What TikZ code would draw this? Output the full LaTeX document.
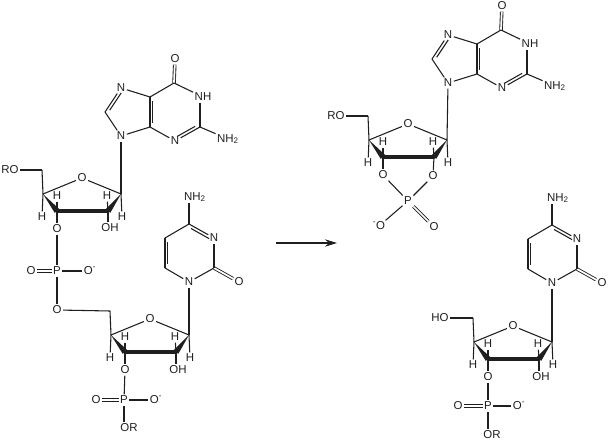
\documentclass[tikz,border=0pt]{standalone}
\usepackage{tikz}
\usepackage{xcolor}
\usepackage{fontspec}
\setmainfont{Liberation Sans}
\usetikzlibrary{calc,arrows.meta}
\newcommand{\NHtwo}{NH\textsubscript{2}}
\newcommand{\Ominus}{O\textsuperscript{-}}
\newcommand{\inbond}[3]{\draw (#1) -- (#2);
  \draw ($(#1)!.14!(#2)!#3!90:(#2)$) -- ($(#2)!.14!(#1)!#3!-90:(#1)$);}
\newcommand{\wedgebond}[2]{\fill (#1) -- ($(#2)!2.2pt!90:(#1)$) -- ($(#2)!2.2pt!-90:(#1)$) -- cycle;}
\begin{document}
\begin{tikzpicture}[x=0.75pt,y=-0.75pt,line width=0.8pt,color=black!88,
  atom/.style={inner sep=0.8pt,font=\fontsize{8.6}{9}\selectfont},
  dbl/.style={double,double distance=1.3pt,line width=0.65pt}]
\useasboundingbox (0,0) rectangle (611,442);
% guanine
  \foreach \b/\dx/\dy in {g/0/0,k/327/-53}
  { \foreach \nm/\x/\y in {c6/174/83,c2/200/127,c4/150/127,c5/150/97,c8/105/112}
    {\coordinate (\b\nm) at (\x+\dx,\y+\dy);}
    \foreach \nm/\x/\y/\txt in {o/175/59/O,n1/203/97/NH,n2/228/139/\NHtwo,n3/175/141/N,n7/121/88/N,n9/121/136/N}
    {\node [atom] (\b\nm) at (\x+\dx,\y+\dy) {\txt};}
    \draw [dbl] (\b c6) -- (\b o);
    \draw (\b c6) -- (\b n1);
    \draw (\b c2) -- (\b c2 |- \b n1.south);
    \draw (\b c2) -- (\b n2);
    \inbond{\b n3}{\b c2}{2.2pt}
    \draw (\b c4) -- (\b n3);
    \inbond{\b c4}{\b c5}{-2.2pt}
    \draw (\b c5) -- (\b c6);
    \draw (\b c5) -- (\b n7);
    \inbond{\b c8}{\b n7}{-2.2pt}
    \draw (\b c8) -- (\b n9);
    \draw (\b n9) -- (\b c4);
  }
% cytosine
  \foreach \b/\dx/\dy in {u/0/0,v/363/1}
  { \foreach \nm/\x/\y in {c2/214/268,c4/189/224,c5/165/238,c6/165/268}
    {\coordinate (\b\nm) at (\x+\dx,\y+\dy);}
    \foreach \nm/\x/\y/\txt in {n1/189/282/N,n3/214/238/N,n2/195/197/\NHtwo,o/239/282/O}
    {\node [atom] (\b\nm) at (\x+\dx,\y+\dy) {\txt};}
    \draw (\b n1) -- (\b c2);
    \draw [dbl] (\b c2) -- (\b o);
    \draw (\b c2) -- (\b n3);
    \inbond{\b c4}{\b n3}{-2.2pt}
    \draw (\b c4) -- (\b c4 |- \b n2.south);
    \draw (\b c4) -- (\b c5);
    \inbond{\b c5}{\b c6}{2.2pt}
    \draw (\b c6) -- (\b n1);
  }
% sugars
  \foreach \s/\dx/\dy in {a/0/0,b/68/141,c/326/-54,d/431/148}
  { \foreach \nm/\x/\y in {c1/121/194,c2/108/211,c3/57/211,c4/43/194,c5/42/170}
    {\coordinate (\s\nm) at (\x+\dx,\y+\dy);}
    \foreach \nm/\x/\y/\txt in {o/82/178/O,oc/57/229/O,h1/122/217/H,h2/107/196/H,h3/57/196/H,h4/42/217/H}
    {\node [atom] (\s\nm) at (\x+\dx,\y+\dy) {\txt};}
    \draw (\s c5) -- (\s c4);
    \draw (\s c4) -- (\s o);
    \draw (\s o) -- (\s c1);
    \draw (\s c4) -- (\s h4);
    \draw (\s c1) -- (\s h1);
    \draw (\s c3) -- (\s h3);
    \draw (\s c2) -- (\s h2);
    \draw (\s c3) -- (\s oc);
    \wedgebond{\s c4}{\s c3}
    \wedgebond{\s c1}{\s c2}
    \draw [line width=2.4pt,line cap=round] (\s c3) -- (\s c2);
  }
% sugar to base
  \draw (ac1) -- (gn9);
  \draw (bc1) -- (un1);
  \draw (cc1) -- (kn9);
  \draw (dc1) -- (vn1);
% hydroxyl and end groups
  \foreach \nm/\x/\y/\txt in {ooh/110/228/OH,boh/178/370/OH,doh/541/377/OH}
  {\node [atom] (\nm) at (\x,\y) {\txt};}
  \draw (ac2) -- (ac2 |- ooh.north);
  \draw (bc2) -- (bc2 |- boh.north);
  \draw (dc2) -- (dc2 |- doh.north);
  \node [atom] (aro) at (10,170) {RO};
  \node [atom] (cro) at (336,116) {RO};
  \node [atom] (dho) at (440,318) {HO};
  \draw (aro) -- (ac5);
  \draw (cro) -- (cc5);
  \draw (dho) -- (dc5);
% phosphates
  \foreach \p/\x/\y/\lx/\rx in {pa/57/271/31/90,pb/124/400/96/156,pd/488/406/458/519}
  { \node [atom] (\p) at (\x,\y) {P};
    \node [atom] (\p l) at (\lx,\y) {O};
    \node [atom] (\p r) at (\rx,\y) {\Ominus};
    \draw [dbl] (\p l) -- (\p);
    \draw (\p) -- (\p r);
  }
  \node [atom] (ol) at (57,310) {O};
  \node [atom] (orb) at (129,428) {OR};
  \node [atom] (ord) at (492,435) {OR};
  \draw (aoc) -- (pa);
  \draw (pa) -- (ol);
  \draw (ol) -- (bc5);
  \draw (boc) -- (pb);
  \draw (pb) -- (pb |- orb.north);
  \draw (doc) -- (pd);
  \draw (pd) -- (pd |- ord.north);
% cyclic phosphate
  \node [atom] (pc) at (408,201) {P};
  \node [atom] (cob) at (433,176) {O};
  \node [atom] (cod) at (434,227) {O};
  \node [atom] (com) at (379,226) {\textsuperscript{-}O};
  \draw (coc) -- (pc);
  \draw (cob) -- (pc);
  \draw [dbl] (pc) -- (cod);
  \draw (pc) -- (com);
  \draw (cc2) -- (cob);
% arrow
  \coordinate (from) at (276,243);
  \coordinate (to) at (337,243);
  \draw [-{Stealth[length=9pt,width=5.5pt]}] (from) -- (to);
\end{tikzpicture}
\end{document}
